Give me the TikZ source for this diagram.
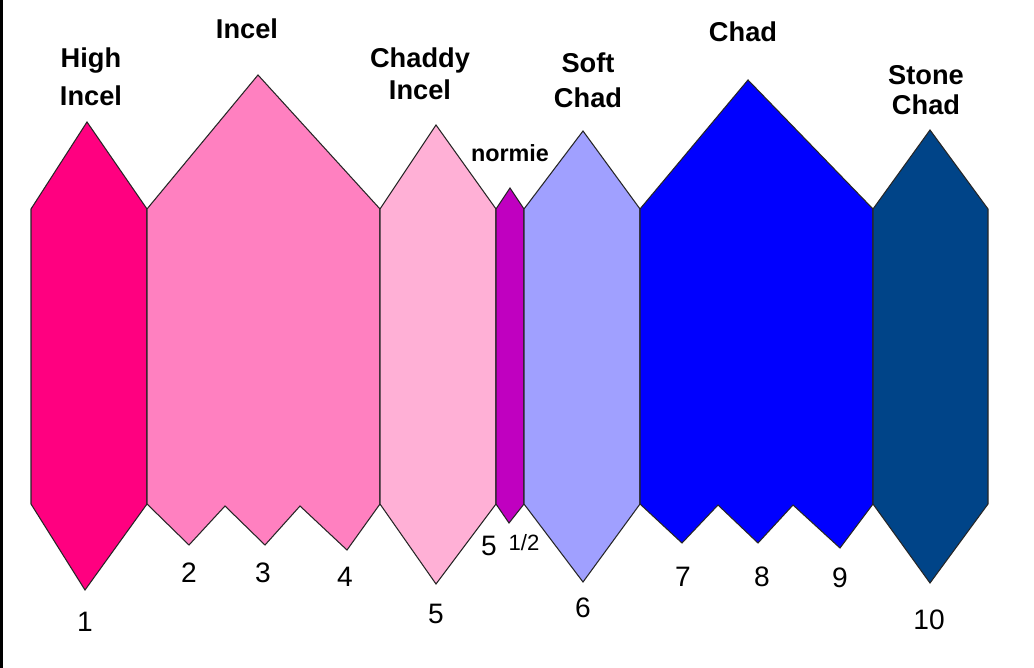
\documentclass[tikz,border=0pt]{standalone}
\usepackage{fontspec}
\setmainfont{Liberation Sans}
\definecolor{highincel}{RGB}{255,0,128}
\definecolor{incel}{RGB}{255,128,192}
\definecolor{chaddyincel}{RGB}{255,176,214}
\definecolor{normie}{RGB}{192,0,192}
\definecolor{softchad}{RGB}{160,160,255}
\definecolor{chad}{RGB}{0,0,255}
\definecolor{stonechad}{RGB}{0,68,136}
\tikzset{
  cell/.style={draw=black!85,line width=0.6pt,line join=miter},
  title/.style={font=\bfseries\fontsize{15.5}{19}\selectfont,align=center,inner sep=0pt},
  rank/.style={font=\fontsize{16}{18}\selectfont,inner sep=0pt}
}
\begin{document}
\begin{tikzpicture}[x=0.02cm,y=-0.02cm]
  \useasboundingbox (0,0) rectangle (1034,668);
  \fill[white] (0,0) rectangle (1034,668);
  \fill[black] (0,0) rectangle (3,668);
  % the seven cells
  \draw[cell,fill=highincel] (31,209) -- (87,122) -- (147,209) -- (147,504)
    -- (85,590) -- (31,504) -- cycle;
  \draw[cell,fill=incel] (147,209) -- (258,75) -- (380,209) -- (380,504)
    -- (347,550) -- (300,506) -- (265,545) -- (225,506) -- (189,545)
    -- (147,504) -- cycle;
  \draw[cell,fill=chaddyincel] (380,209) -- (436,125) -- (496,209)
    -- (496,504) -- (436,584) -- (380,504) -- cycle;
  \draw[cell,fill=normie] (496,209) -- (510,188) -- (524,209) -- (524,504)
    -- (509,523) -- (496,504) -- cycle;
  \draw[cell,fill=softchad] (524,209) -- (583,131) -- (640,209) -- (640,504)
    -- (583,582) -- (524,504) -- cycle;
  \draw[cell,fill=chad] (640,209) -- (748,80) -- (873,209) -- (873,504)
    -- (840,548) -- (793,505) -- (758,543) -- (718,505) -- (682,543)
    -- (640,504) -- cycle;
  \draw[cell,fill=stonechad] (873,209) -- (930,130) -- (988,209)
    -- (988,504) -- (930,583) -- (873,504) -- cycle;
  % names
  \node[title] (highincelname) at (91,77) {High\\[2.5pt]Incel};
  \node[title] (incelname) at (247,29) {Incel};
  \node[title] (chaddyname) at (420,74) {Chaddy\\[-1pt]Incel};
  \node[title,font=\bfseries\fontsize{13.3}{15}\selectfont] (normiename) at (510,153) {normie};
  \node[title] (softname) at (588,80) {Soft\\[1pt]Chad};
  \node[title] (chadname) at (743,32) {Chad};
  \node[title] (stonename) at (926,90) {Stone\\[-2pt]Chad};
  % ranks
  \node[rank] (r1) at (85,622) {1};
  \node[rank] (r2) at (189,573) {2};
  \node[rank] (r3) at (263,573) {3};
  \node[rank] (r4) at (345,577) {4};
  \node[rank] (r5) at (436,614) {5};
  \node[rank] (r5b) at (489,546) {5};
  \node[rank,font=\fontsize{12.6}{14}\selectfont] (rhalf) at (524,543) {1/2};
  \node[rank] (r6) at (583,608) {6};
  \node[rank] (r7) at (683,577) {7};
  \node[rank] (r8) at (762,577) {8};
  \node[rank] (r9) at (840,578) {9};
  \node[rank] (r10) at (929,620) {10};
\end{tikzpicture}
\end{document}
